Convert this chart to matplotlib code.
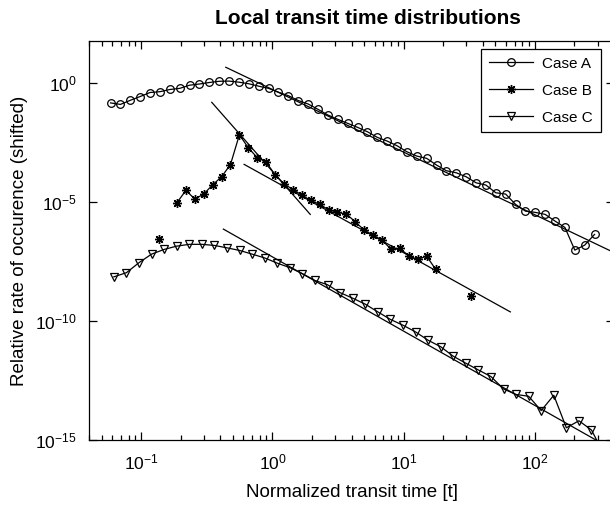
import numpy as np
import matplotlib
matplotlib.use("Agg")
import matplotlib.pyplot as plt
from matplotlib.ticker import LogLocator, NullLocator, NullFormatter

plt.rcParams['font.family'] = ['Liberation Sans', 'DejaVu Sans']
plt.rcParams['mathtext.fontset'] = 'custom'
plt.rcParams['mathtext.rm'] = 'Liberation Sans'
plt.rcParams['mathtext.it'] = 'Liberation Sans:italic'
plt.rcParams['mathtext.bf'] = 'Liberation Sans:bold'

# Case A: normalized transit time and log10 of the (shifted) rate
case_a_t = [0.0584, 0.0694, 0.0826, 0.0982, 0.1168, 0.1389, 0.1652, 0.1964, 0.2336, 0.2778,
            0.3304, 0.3929, 0.4672, 0.5556, 0.6607, 0.7857, 0.9344, 1.111, 1.321, 1.571,
            1.869, 2.222, 2.643, 3.143, 3.738, 4.445, 5.286, 6.286, 7.475, 8.890,
            10.57, 12.57, 14.95, 17.78, 21.14, 25.14, 29.90, 35.56, 42.29, 50.29,
            59.80, 71.12, 84.57, 100.6, 119.6, 142.2, 169.1, 201.1, 239.2, 284.4]
case_a_log = [-0.849, -0.912, -0.739, -0.580, -0.412, -0.378, -0.286, -0.239, -0.105, -0.055,
              0.008, 0.059, 0.067, 0.021, -0.046, -0.147, -0.239, -0.399, -0.546, -0.748,
              -0.895, -1.118, -1.357, -1.538, -1.706, -1.874, -2.059, -2.294, -2.450, -2.647,
              -2.899, -3.080, -3.176, -3.458, -3.697, -3.782, -3.950, -4.202, -4.298, -4.622,
              -4.676, -5.109, -5.391, -5.445, -5.529, -5.811, -6.076, -7.029, -6.819, -6.370]

# Case B (NaN = empty bin)
case_b_t = [0.1369, 0.1602, 0.1873, 0.2190, 0.2560, 0.2995, 0.3501, 0.4094, 0.4786, 0.5597,
            0.6544, 0.7652, 0.8948, 1.046, 1.223, 1.431, 1.673, 1.956, 2.287, 2.674,
            3.127, 3.656, 4.275, 4.998, 5.845, 6.834, 7.991, 9.344, 10.93, 12.78,
            14.94, 17.47, 20.42, 23.88, 27.92, 32.65]
case_b_log = [-6.580, np.nan, -5.034, -4.521, -4.887, -4.676, -4.286, -3.950, -3.437, -2.185,
              -2.735, -3.143, -3.332, -3.866, -4.244, -4.487, -4.718, -4.941, -5.105, -5.336,
              -5.445, -5.517, -5.840, -6.189, -6.399, -6.609, -6.987, -6.958, -7.269, -7.420,
              -7.282, -7.828, np.nan, np.nan, np.nan, -8.962]

# Case C
case_c_t = [0.06187, 0.07717, 0.09619, 0.1199, 0.1495, 0.1864, 0.2324, 0.2897, 0.3611, 0.4501,
            0.5612, 0.6998, 0.8723, 1.088, 1.356, 1.690, 2.108, 2.628, 3.276, 4.083,
            5.091, 6.348, 7.911, 9.865, 12.30, 15.33, 19.11, 23.84, 29.71, 37.04,
            46.18, 57.57, 71.77, 89.49, 111.5, 139.1, 173.4, 216.1, 269.5, 335.9]
case_c_log = [-8.151, -7.975, -7.555, -7.197, -7.000, -6.861, -6.786, -6.786, -6.832, -6.933,
              -7.042, -7.197, -7.357, -7.576, -7.765, -8.017, -8.303, -8.483, -8.815, -9.046,
              -9.298, -9.622, -9.937, -10.181, -10.462, -10.811, -11.084, -11.483, -11.777, -12.059,
              -12.336, -12.857, -13.088, -13.164, -13.765, -13.122, -14.487, -14.193, -14.580, -15.60]

# power-law fits, given by their end points (t, log10 rate)
fit_a_t, fit_a_log = [0.441, 400.0], [0.647, -7.13]
fit_b1_t, fit_b1_log = [0.3446, 1.94], [-0.824, -5.529]
fit_b2_t, fit_b2_log = [0.608, 64.9], [-3.429, -9.622]
fit_c_t, fit_c_log = [0.4227, 400.0], [-6.147, -15.43]

labels = ['Case A', 'Case B', 'Case C']

fig = plt.figure(figsize=(6.1, 5.12), dpi=100)
ax = fig.add_axes([89 / 610, 72 / 512, 525 / 610, 399 / 512])

lw = 0.9
ms = 5.5
ax.plot(case_a_t, 10.0 ** np.array(case_a_log), '-', color='k', lw=lw, marker='o',
        ms=ms, mfc='none', mec='k', mew=0.9, label=labels[0])
ax.plot(case_b_t, 10.0 ** np.array(case_b_log), '-', color='k', lw=lw, marker=(8, 2, 0),
        ms=6.5, mec='k', mew=1.0, label=labels[1])
ax.plot(case_c_t, 10.0 ** np.array(case_c_log), '-', color='k', lw=lw, marker='v',
        ms=ms, mfc='none', mec='k', mew=0.9, label=labels[2])

for ft, fl in [(fit_a_t, fit_a_log), (fit_b1_t, fit_b1_log),
               (fit_b2_t, fit_b2_log), (fit_c_t, fit_c_log)]:
    ax.plot(ft, 10.0 ** np.array(fl), '-', color='k', lw=lw)

ax.set_xscale('log')
ax.set_yscale('log')
ax.set_xlim(0.04, 400)
ax.set_ylim(1e-15, 10 ** 1.75)

ax.set_xticks([0.1, 1, 10, 100])
ax.set_xticklabels([r'$10^{-1}$', r'$10^{0}$', r'$10^{1}$', r'$10^{2}$'])
ax.xaxis.set_minor_locator(LogLocator(base=10, subs=np.arange(2, 10)))
ax.xaxis.set_minor_formatter(NullFormatter())
ax.set_yticks([1e-15, 1e-10, 1e-5, 1])
ax.set_yticklabels([r'$10^{-15}$', r'$10^{-10}$', r'$10^{-5}$', r'$10^{0}$'])
ax.yaxis.set_minor_locator(NullLocator())

ax.tick_params(which='both', direction='in', top=True, right=True, width=0.9,
               labelsize=12.5)
ax.tick_params(which='major', length=6, pad=9)
ax.tick_params(which='minor', length=3.5)
for s in ax.spines.values():
    s.set_linewidth(0.9)

ax.set_xlabel('Normalized transit time [t]', fontsize=13.5, labelpad=8)
ax.set_ylabel('Relative rate of occurence (shifted)', fontsize=13.5, labelpad=5)
fig.text(368 / 610, 1 - 18 / 512, 'Local transit time distributions',
         fontsize=15, fontweight='bold', ha='center', va='center')

leg = ax.legend(loc='upper right', bbox_to_anchor=(0.975, 0.98), fontsize=11,
                frameon=True, fancybox=False, framealpha=1, edgecolor='k',
                handlelength=2.9, handletextpad=0.6, labelspacing=0.85,
                borderpad=0.5, borderaxespad=0)
leg.get_frame().set_linewidth(0.9)

fig.savefig('out.png', dpi=100)
